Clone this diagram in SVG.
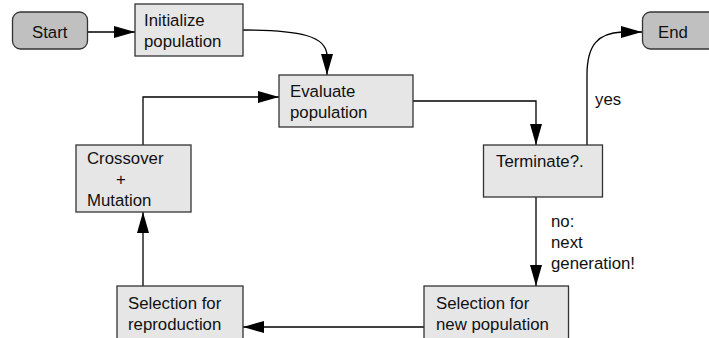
<svg xmlns="http://www.w3.org/2000/svg" width="709" height="338" viewBox="0 0 709 338">
<defs>
<style>
.box{fill:#e6e6e6;stroke:#333;stroke-width:1.3}
.term{fill:#c0c0c0;stroke:#333;stroke-width:1.3}
.t{font-family:"Liberation Sans",Arial,sans-serif;font-size:16.8px;fill:#111}
.e{fill:none;stroke:#000;stroke-width:1.3;marker-end:url(#ah)}
</style>
<marker id="ah" viewBox="0 0 21 12" refX="21" refY="6" markerUnits="userSpaceOnUse" markerWidth="21" markerHeight="12" orient="auto">
<path d="M0,0 L21,6 L0,12 z" fill="#000"/>
</marker>
</defs>
<rect width="709" height="338" fill="#fff"/>
<g id="connectors">
<path class="e" d="M88,32 L135,32"/>
<path class="e" d="M243,30 C300,30 327,36 327,56 L327,75"/>
<path class="e" d="M413,101 L536,101 L536,145"/>
<path class="e" d="M587,145 L587,75 C587,45 598,33 622,32 L642,32"/>
<text class="t" x="595" y="105">yes</text>
<path class="e" d="M536,197 L536,286"/>
<text class="t" x="551" y="227">no:</text>
<text class="t" x="551" y="248">next</text>
<text class="t" x="551" y="269">generation!</text>
<path class="e" d="M424,327 L243,327"/>
<path class="e" d="M143,286 L143,212"/>
<path class="e" d="M143,145 L143,97 L279,97"/>
</g>
<g id="start">
<rect class="term" x="12.5" y="12" width="75" height="37" rx="8"/>
<text class="t" x="32" y="38">Start</text>
</g>
<g id="init">
<rect class="box" x="135" y="4" width="108" height="52"/>
<text class="t" x="144" y="26">Initialize</text>
<text class="t" x="144" y="47">population</text>
</g>
<g id="evaluate">
<rect class="box" x="279" y="75" width="134" height="52"/>
<text class="t" x="290" y="97">Evaluate</text>
<text class="t" x="290" y="118">population</text>
</g>
<g id="end">
<rect class="term" x="642.5" y="12" width="80" height="37" rx="8"/>
<text class="t" x="658" y="38">End</text>
</g>
<g id="terminate">
<rect class="box" x="483.5" y="145" width="119" height="52"/>
<text class="t" x="496" y="167">Terminate?.</text>
</g>
<g id="crossover">
<rect class="box" x="76" y="145" width="115" height="67"/>
<text class="t" x="87" y="164">Crossover</text>
<text class="t" x="116" y="185">+</text>
<text class="t" x="87" y="206">Mutation</text>
</g>
<g id="selnew">
<rect class="box" x="424" y="286" width="144.5" height="60"/>
<text class="t" x="436" y="309">Selection for</text>
<text class="t" x="436" y="330">new population</text>
</g>
<g id="selrep">
<rect class="box" x="117" y="286" width="126" height="60"/>
<text class="t" x="128" y="309">Selection for</text>
<text class="t" x="128" y="330">reproduction</text>
</g>
</svg>
